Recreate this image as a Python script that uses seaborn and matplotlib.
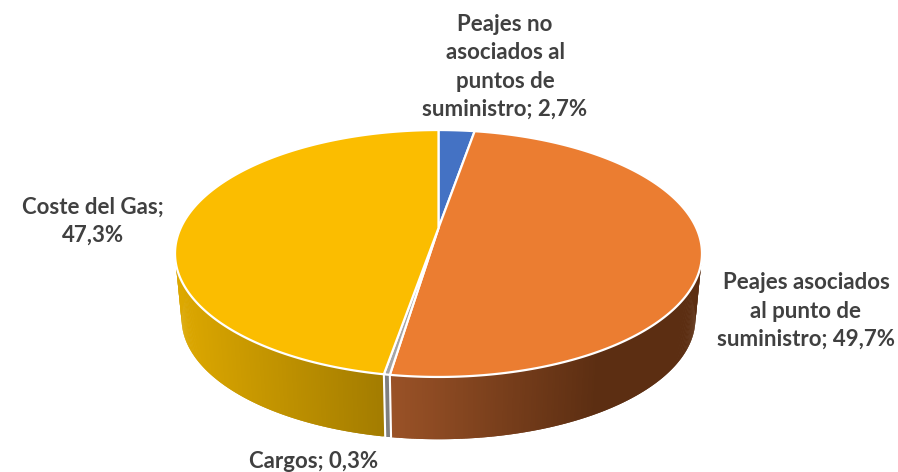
import numpy as np
import seaborn as sns
from matplotlib import pyplot as plt
from matplotlib.colors import to_rgb

sns.set_theme(style="white")
plt.rcParams["font.family"] = ["Lato", "DejaVu Sans"]

CATEGORIES = [
    "Peajes no\nasociados al\npuntos de\nsuministro",
    "Peajes asociados\nal punto de\nsuministro",
    "Cargos",
    "Coste del Gas",
]
VALUES = [2.7, 49.7, 0.3, 47.3]
TOP_COLORS = ["#4472C4", "#EB7D31", "#A5A5A5", "#FBBD00"]
# wall colour at the left and right end of each slice's gradient
WALL_LEFT = ["#2F4F88", "#9A5227", "#7F7F7F", "#DDA800"]
WALL_RIGHT = ["#2F4F88", "#5C2E12", "#7F7F7F", "#A37C00"]
WALL_RANGE = [(0, 1), (392, 600), (0, 1), (176, 384)]
SEP = ["\n", "\n", " ", "\n"]
LABEL_POS = [(505, 67), (806, 311), (314, 461), (93, 221)]

CX, APEX_Y = 438.5, 228
A, Q, K = 257.8, 118.2, 0.2065
WALL_SCALE, WALL_DROP = 0.975, 66


def project(theta, scale=1.0, drop=0.0):
    # clockwise from 12 o'clock, back of the disc is further away
    x, y = np.sin(theta), np.cos(theta)
    w = 1 + K * y
    return CX + scale * A * x / w, APEX_Y + drop - scale * Q * y / w


fig, ax = plt.subplots(figsize=(8.98, 4.72), dpi=100)
fig.subplots_adjust(0, 0, 1, 1)
ax.set_xlim(0, 898)
ax.set_ylim(472, 0)
ax.axis("off")

edges = np.cumsum([0] + VALUES) / sum(VALUES) * 2 * np.pi

# side wall, each strip overlaps the next so no seams show
for i in range(len(VALUES)):
    th = np.linspace(edges[i], edges[i + 1], max(5, int(VALUES[i] * 8)))
    xt, yt = project(th)
    xb, yb = project(th, WALL_SCALE, WALL_DROP)
    lo, hi = WALL_RANGE[i]
    left, right = np.array(to_rgb(WALL_LEFT[i])), np.array(to_rgb(WALL_RIGHT[i]))
    for j in range(len(th) - 1):
        k = min(j + 2, len(th) - 1)
        t = np.clip((xt[j] - lo) / (hi - lo), 0, 1)
        ax.fill(
            [xt[j], xt[k], xb[k], xb[j]],
            [yt[j], yt[k], yb[k], yb[j]],
            color=left + (right - left) * t, lw=0, zorder=2,
        )

# white seams on the front of the wall
for e in edges:
    if abs(e - np.pi) < 0.6:
        x0, y0 = project(e)
        x1, y1 = project(e, WALL_SCALE, WALL_DROP)
        ax.plot([x0, x1], [y0, y1], color="white", lw=1.5, zorder=3)

# top face
for i in range(len(VALUES)):
    th = np.linspace(edges[i], edges[i + 1], max(5, int(VALUES[i] * 8)))
    xt, yt = project(th)
    ax.fill(
        np.r_[CX, xt], np.r_[APEX_Y, yt],
        facecolor=TOP_COLORS[i], edgecolor="white", lw=1.6, joinstyle="round", zorder=4,
    )

for name, val, sep, (lx, ly) in zip(CATEGORIES, VALUES, SEP, LABEL_POS):
    txt = f"{name};{sep}{val:.1f}%".replace(".", ",")
    if name.endswith("suministro"):
        txt = f"{name}; {val:.1f}%".replace(".", ",")
    ax.text(lx, ly, txt, ha="center", va="center", fontsize=16, fontweight="bold",
            color="#404040", linespacing=1.42, zorder=5)

fig.savefig("out.png", dpi=100)
